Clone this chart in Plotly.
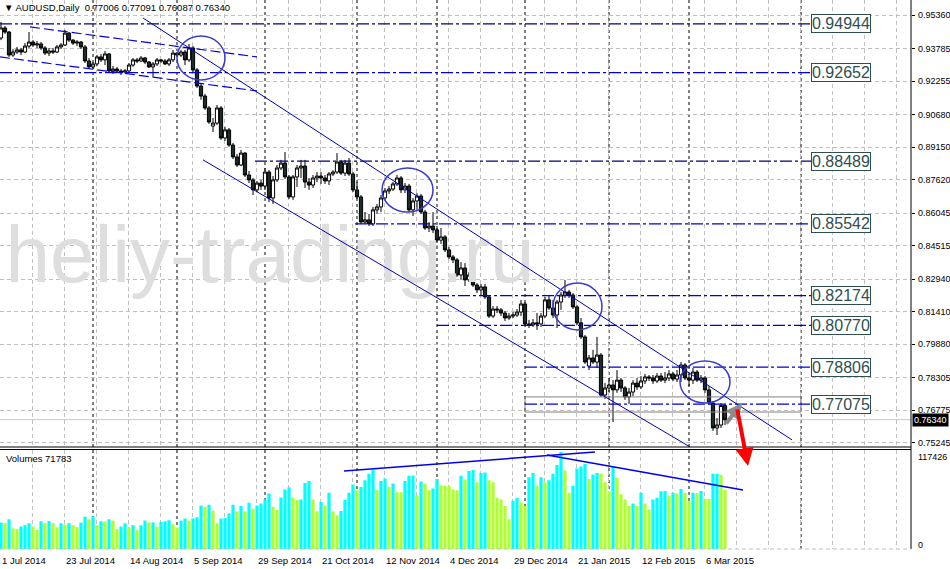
import pandas as pd
import plotly.graph_objects as go

# ---------------- data ----------------
all_days = pd.bdate_range("2014-07-01", "2015-03-13")
dates = [d for d in all_days if d.strftime("%m-%d") not in ("12-25", "01-01")]
idx = list(range(len(dates)))

opens = [0.9428,0.9475,0.9456,0.9348,0.9362,0.9372,0.9362,0.9390,0.9409,0.9395,
0.9400,0.9381,0.9357,0.9367,0.9362,0.9386,0.9395,0.9451,0.9418,0.9404,
0.9409,0.9386,0.9320,0.9292,0.9306,0.9339,0.9325,0.9353,0.9273,0.9282,
0.9273,0.9268,0.9273,0.9301,0.9325,0.9320,0.9334,0.9315,0.9292,0.9306,
0.9325,0.9320,0.9306,0.9325,0.9357,0.9348,0.9362,0.9325,0.9381,0.9278,
0.9202,0.9155,0.9099,0.9014,0.9028,0.9099,0.8958,0.8996,0.8925,0.8869,
0.8831,0.8887,0.8784,0.8761,0.8714,0.8746,0.8732,0.8798,0.8676,0.8761,
0.8817,0.8840,0.8775,0.8681,0.8775,0.8817,0.8826,0.8751,0.8737,0.8770,
0.8779,0.8770,0.8756,0.8789,0.8798,0.8845,0.8793,0.8840,0.8789,0.8714,
0.8681,0.8563,0.8573,0.8554,0.8620,0.8634,0.8676,0.8709,0.8718,0.8742,
0.8770,0.8714,0.8732,0.8620,0.8662,0.8685,0.8610,0.8535,0.8544,0.8526,
0.8478,0.8493,0.8432,0.8399,0.8385,0.8314,0.8347,0.8291,0.8314,0.8267,
0.8244,0.8258,0.8211,0.8121,0.8154,0.8150,0.8135,0.8112,0.8121,0.8126,
0.8140,0.8178,0.8084,0.8079,0.8089,0.8084,0.8121,0.8197,0.8159,0.8126,
0.8187,0.8220,0.8234,0.8220,0.8164,0.8089,0.8023,0.7886,0.7924,0.7905,
0.7938,0.7750,0.7783,0.7797,0.7774,0.7820,0.7783,0.7741,0.7764,0.7806,
0.7788,0.7816,0.7835,0.7830,0.7816,0.7839,0.7820,0.7830,0.7849,0.7825,
0.7844,0.7891,0.7830,0.7820,0.7858,0.7820,0.7830,0.7774,0.7712,0.7595,
0.7609,0.77006]
highs = [0.9503,0.9484,0.9461,0.9376,0.9386,0.9381,0.9404,0.9456,0.9418,0.9414,
0.9409,0.9390,0.9381,0.9381,0.9395,0.9404,0.9466,0.9456,0.9423,0.9418,
0.9414,0.9395,0.9334,0.9315,0.9348,0.9353,0.9367,0.9357,0.9296,0.9292,
0.9282,0.9282,0.9310,0.9334,0.9334,0.9343,0.9339,0.9320,0.9315,0.9334,
0.9329,0.9329,0.9334,0.9372,0.9362,0.9372,0.9372,0.9400,0.9390,0.9287,
0.9212,0.9165,0.9108,0.9052,0.9113,0.9108,0.9010,0.9005,0.8935,0.8883,
0.8902,0.8892,0.8803,0.8770,0.8756,0.8761,0.8817,0.8807,0.8779,0.8831,
0.8855,0.8892,0.8784,0.8784,0.8831,0.8855,0.8855,0.8770,0.8784,0.8798,
0.8798,0.8784,0.8798,0.8807,0.8887,0.8855,0.8855,0.8864,0.8798,0.8751,
0.8690,0.8610,0.8601,0.8634,0.8648,0.8690,0.8723,0.8732,0.8751,0.8784,
0.8779,0.8746,0.8742,0.8676,0.8699,0.8695,0.8620,0.8563,0.8610,0.8544,
0.8535,0.8502,0.8446,0.8408,0.8394,0.8375,0.8370,0.8328,0.8324,0.8276,
0.8272,0.8272,0.8220,0.8168,0.8168,0.8159,0.8145,0.8135,0.8140,0.8154,
0.8197,0.8187,0.8103,0.8107,0.8135,0.8135,0.8211,0.8215,0.8197,0.8197,
0.8234,0.8291,0.8244,0.8229,0.8173,0.8112,0.8032,0.7938,0.7962,0.8023,
0.7947,0.7806,0.7830,0.7820,0.7867,0.7830,0.7792,0.7783,0.7820,0.7830,
0.7839,0.7849,0.7844,0.7844,0.7853,0.7853,0.7858,0.7867,0.7858,0.7867,
0.7905,0.7900,0.7849,0.7877,0.7867,0.7844,0.7839,0.7792,0.7722,0.7642,
0.7712,0.77091]
lows = [0.9418,0.9447,0.9339,0.9339,0.9353,0.9348,0.9357,0.9381,0.9386,0.9381,
0.9372,0.9348,0.9343,0.9353,0.9357,0.9376,0.9390,0.9409,0.9395,0.9390,
0.9376,0.9310,0.9282,0.9282,0.9296,0.9315,0.9301,0.9268,0.9259,0.9263,
0.9254,0.9263,0.9263,0.9292,0.9310,0.9315,0.9306,0.9287,0.9245,0.9296,
0.9310,0.9301,0.9296,0.9315,0.9343,0.9339,0.9301,0.9315,0.9268,0.9193,
0.9137,0.9090,0.9024,0.8986,0.9019,0.8949,0.8944,0.8916,0.8859,0.8822,
0.8826,0.8775,0.8746,0.8690,0.8704,0.8714,0.8714,0.8657,0.8648,0.8751,
0.8807,0.8765,0.8671,0.8667,0.8728,0.8770,0.8723,0.8714,0.8723,0.8751,
0.8742,0.8742,0.8737,0.8779,0.8789,0.8784,0.8779,0.8779,0.8704,0.8671,
0.8554,0.8554,0.8544,0.8544,0.8601,0.8610,0.8667,0.8695,0.8709,0.8732,
0.8699,0.8699,0.8610,0.8591,0.8620,0.8601,0.8526,0.8516,0.8511,0.8469,
0.8460,0.8422,0.8389,0.8370,0.8305,0.8291,0.8262,0.8281,0.8258,0.8229,
0.8220,0.8201,0.8112,0.8112,0.8135,0.8121,0.8098,0.8103,0.8112,0.8117,
0.8121,0.8075,0.8065,0.8070,0.8056,0.8070,0.8112,0.8150,0.8112,0.8065,
0.8150,0.8206,0.8206,0.8154,0.8079,0.8013,0.7896,0.7867,0.7896,0.7877,
0.7741,0.7731,0.7764,0.7623,0.7760,0.7764,0.7727,0.7708,0.7745,0.7774,
0.7778,0.7802,0.7816,0.7802,0.7806,0.7811,0.7806,0.7816,0.7816,0.7811,
0.7811,0.7820,0.7792,0.7802,0.7811,0.7806,0.7760,0.7703,0.7581,0.7562,
0.7595,0.76087]
closes = [0.9475,0.9456,0.9348,0.9362,0.9372,0.9362,0.9390,0.9409,0.9395,0.9400,
0.9381,0.9357,0.9367,0.9362,0.9386,0.9395,0.9451,0.9418,0.9404,0.9409,
0.9386,0.9320,0.9292,0.9306,0.9339,0.9325,0.9353,0.9273,0.9282,0.9273,
0.9268,0.9273,0.9301,0.9325,0.9320,0.9334,0.9315,0.9292,0.9306,0.9325,
0.9320,0.9306,0.9325,0.9357,0.9348,0.9362,0.9325,0.9381,0.9278,0.9202,
0.9155,0.9099,0.9033,0.9028,0.9099,0.8958,0.8996,0.8925,0.8869,0.8831,
0.8887,0.8784,0.8761,0.8714,0.8746,0.8732,0.8798,0.8676,0.8761,0.8817,
0.8840,0.8775,0.8681,0.8775,0.8817,0.8826,0.8751,0.8737,0.8770,0.8779,
0.8770,0.8756,0.8789,0.8798,0.8845,0.8793,0.8840,0.8789,0.8714,0.8681,
0.8563,0.8573,0.8554,0.8620,0.8634,0.8676,0.8709,0.8718,0.8742,0.8770,
0.8714,0.8732,0.8620,0.8662,0.8685,0.8610,0.8535,0.8544,0.8526,0.8478,
0.8493,0.8432,0.8399,0.8385,0.8314,0.8347,0.8291,0.8314,0.8267,0.8244,
0.8258,0.8211,0.8121,0.8154,0.8150,0.8135,0.8112,0.8121,0.8126,0.8140,
0.8178,0.8084,0.8079,0.8089,0.8084,0.8121,0.8197,0.8159,0.8126,0.8187,
0.8220,0.8234,0.8220,0.8164,0.8089,0.8023,0.7905,0.7924,0.7905,0.7938,
0.7750,0.7783,0.7797,0.7774,0.7820,0.7783,0.7741,0.7764,0.7806,0.7788,
0.7816,0.7835,0.7830,0.7816,0.7839,0.7820,0.7830,0.7849,0.7825,0.7844,
0.7891,0.7830,0.7820,0.7858,0.7820,0.7830,0.7774,0.7712,0.7595,0.7609,
0.77006,0.76340]
volumes = [32000,31500,36000,24800,24000,27200,28800,31200,27200,23200,
33600,31200,33800,31200,26400,31200,29600,31200,28800,26400,
32000,39200,36000,39500,28800,33600,33400,36000,34400,24000,
27200,31200,26400,28800,23200,28800,34400,32000,32200,27200,
32800,33600,34800,30000,26000,34400,36800,34400,37000,38400,
52800,51200,53600,46400,31200,36800,37600,43200,53600,45600,
52000,45600,56000,48800,52800,55200,60000,67200,51200,47200,
62400,72000,74800,62000,59200,60000,80000,82400,60000,45600,
56800,52800,68000,45600,40800,46000,59200,68000,78000,71200,
75200,83200,91200,96000,71200,82400,85200,75200,79200,68800,
68600,82400,88800,89000,64800,81600,79200,71200,73200,84800,
76800,76600,76400,72000,71200,88800,84000,94400,
95500,80700,91900,92500,83100,80700,62000,60000,52000,36000,
58300,62000,56700,52000,87000,92000,76700,87000,80700,83100,
91100,101800,117426,95000,68000,76700,97400,99800,103000,84700,
90300,92000,91500,80700,69900,99000,85900,66300,60000,52000,
55000,52000,68000,55000,48000,60000,62000,70000,70200,64700,
68000,67500,72700,68000,58300,68000,67800,70300,60700,60500,
91000,91200,89500,71783]

price_ticks = [0.95360, 0.93785, 0.92255, 0.90680, 0.89150, 0.87620, 0.86045,
               0.84515, 0.82940, 0.81410, 0.79880, 0.78305, 0.76775, 0.75245]
volume_max = 117426

levels = [0.94944, 0.92652, 0.88489, 0.85542, 0.82174, 0.80770, 0.78806, 0.77075]
level_from = [-0.25, -0.25, 63.5, 88.5, 109, 109, 131, 131]
level_to = 202.5
level_colors = ["#000080", "#0000dd", "#000080", "#0000dd", "#0000dd", "#0000dd", "#0000dd", "#0000dd"]

month_lines = [23, 44, 66, 89, 109, 131, 152, 172, 200]
date_ticks = list(range(0, len(dates), 16))

# analyst drawings, in (bar index, price) coordinates
trend_lines = [((35.5, 0.9522), (197.75, 0.7539)),
               ((50.5, 0.8855), (172.25, 0.7506))]
early_channel = [((7.25, 0.9480), (64, 0.9339)),
                 ((-0.25, 0.9339), (64, 0.9179))]
volume_lines = [((85.75, 94400), (148.5, 117400)),
                ((136.5, 113800), (185.5, 71400))]
ellipses = [(44, 56, 0.9231, 0.9437), (95.25, 108, 0.8610, 0.8817),
            (138, 150.25, 0.8056, 0.8276), (169.75, 182.25, 0.7712, 0.7910)]
zone = (131, 200, 0.7670, 0.7741)
last_price = closes[-1]

FONT = "Liberation Sans, Arial, sans-serif"
PRICE_DOM = [1 - 447 / 549, 1]
VOL_DOM = [0, 99.5 / 549]
X_RANGE = [-0.25, 227.5]

vol_colors = ["#00ffff" if i == 0 or volumes[i] > volumes[i - 1] else "#adff2f" for i in idx]

fig = go.Figure()
fig.add_trace(go.Scatter(x=[67.25], y=[0.8375], mode="text", text=["heliy-trading.ru"],
                         textfont=dict(size=80, color="#dedede", family=FONT),
                         hoverinfo="skip", showlegend=False, xaxis="x", yaxis="y"))
fig.add_trace(go.Bar(x=idx, y=volumes, marker=dict(color=vol_colors, line=dict(width=0)),
                     width=0.8, xaxis="x2", yaxis="y2", hoverinfo="skip", showlegend=False))
fig.add_trace(go.Candlestick(x=idx, open=opens, high=highs, low=lows, close=closes,
                             increasing=dict(line=dict(color="black", width=1), fillcolor="white"),
                             decreasing=dict(line=dict(color="black", width=1), fillcolor="#1f2b2b"),
                             whiskerwidth=0, hoverinfo="skip", showlegend=False,
                             xaxis="x", yaxis="y"))

shapes = []
for m in month_lines:
    shapes.append(dict(type="line", xref="x", yref="paper", x0=m, x1=m, y0=0, y1=1,
                       line=dict(color="black", width=1, dash="3px,3px"), layer="below"))
shapes.append(dict(type="line", xref="x", yref="y", x0=X_RANGE[0], x1=X_RANGE[1],
                   y0=last_price, y1=last_price, line=dict(color="#c8c8c8", width=1), layer="below"))
shapes.append(dict(type="rect", xref="x", yref="y", x0=zone[0], x1=zone[1], y0=zone[2], y1=zone[3],
                   line=dict(color="#808080", width=1)))
for lv, x0, c in zip(levels, level_from, level_colors):
    shapes.append(dict(type="line", xref="x", yref="y", x0=x0, x1=level_to, y0=lv, y1=lv,
                       line=dict(color=c, width=1.2, dash="12px,3px,3px,3px")))
for (a, b) in trend_lines:
    shapes.append(dict(type="line", xref="x", yref="y", x0=a[0], y0=a[1], x1=b[0], y1=b[1],
                       line=dict(color="#0000b0", width=1)))
for (a, b) in early_channel:
    shapes.append(dict(type="line", xref="x", yref="y", x0=a[0], y0=a[1], x1=b[0], y1=b[1],
                       line=dict(color="#0000dd", width=1.2, dash="10px,4px")))
for (a, b) in volume_lines:
    shapes.append(dict(type="line", xref="x2", yref="y2", x0=a[0], y0=a[1], x1=b[0], y1=b[1],
                       line=dict(color="#0000ee", width=1.5)))
for (x0, x1, y0, y1) in ellipses:
    shapes.append(dict(type="circle", xref="x", yref="y", x0=x0, x1=x1, y0=y0, y1=y1,
                       line=dict(color="#3a3ad0", width=1.5)))
shapes.append(dict(type="line", xref="paper", yref="paper", x0=1, x1=1, y0=0, y1=1,
                   line=dict(color="black", width=1)))
shapes.append(dict(type="line", xref="paper", yref="paper", x0=0, x1=1, y0=PRICE_DOM[0], y1=PRICE_DOM[0],
                   line=dict(color="black", width=1)))
shapes.append(dict(type="line", xref="paper", yref="paper", x0=0, x1=1, y0=VOL_DOM[1], y1=VOL_DOM[1],
                   line=dict(color="black", width=1)))
shapes.append(dict(type="line", xref="paper", yref="paper", x0=0, x1=1, y0=0, y1=0,
                   line=dict(color="#c0c0c0", width=1, dash="4px,3px")))

ann = []
ann.append(dict(xref="paper", yref="paper", x=0, y=1, xanchor="left", yanchor="top", xshift=2, yshift=0,
                text="▼ AUDUSD,Daily  0.77006 0.77091 0.76087 0.76340", showarrow=False,
                font=dict(family=FONT, size=9.5, color="black")))
ann.append(dict(xref="paper", yref="paper", x=0, y=(549 - 458) / 549, xanchor="left", yanchor="middle",
                xshift=4, text="Volumes %d" % volumes[-1], showarrow=False,
                font=dict(family=FONT, size=9.5, color="black")))
for t in date_ticks:
    d = dates[t]
    ann.append(dict(xref="x", yref="paper", x=t - 0.25, y=-11 / 549, xanchor="left", yanchor="middle",
                    text="%d %s" % (d.day, d.strftime("%b %Y")), showarrow=False,
                    font=dict(family=FONT, size=9.5, color="black")))
for v in price_ticks:
    ann.append(dict(xref="paper", yref="y", x=1, y=v, xanchor="left", yanchor="middle", xshift=5,
                    text="%.5f" % v, showarrow=False, font=dict(family=FONT, size=9, color="black")))
for lv in levels:
    ann.append(dict(xref="x", yref="y", x=level_to, y=lv, xanchor="left", yanchor="middle",
                    text="%.5f" % lv, showarrow=False, bgcolor="white", bordercolor="#2f4f4f",
                    borderwidth=1, borderpad=0, font=dict(family=FONT, size=16, color="#2f4f4f")))
ann.append(dict(xref="paper", yref="y", x=1, y=last_price, xanchor="left", yanchor="middle", xshift=1,
                text="%.5f" % last_price, showarrow=False, bgcolor="black", borderpad=1,
                font=dict(family=FONT, size=9, color="white")))
ann.append(dict(xref="paper", yref="paper", x=1, y=(549 - 457) / 549, xanchor="left", yanchor="middle",
                xshift=5, text=str(volume_max), showarrow=False, font=dict(family=FONT, size=9, color="black")))
ann.append(dict(xref="paper", yref="paper", x=1, y=(549 - 545) / 549, xanchor="left", yanchor="middle",
                xshift=5, text="0", showarrow=False, font=dict(family=FONT, size=9, color="black")))
ann.append(dict(xref="x", yref="paper", x=185.25, y=(549 - 403) / 549, ax=-17, ay=22, text="",
                showarrow=True, arrowhead=2, arrowsize=0.8, arrowwidth=4, arrowcolor="#8c8c8c"))
ann.append(dict(xref="x", yref="paper", x=186.75, y=(549 - 466) / 549, ax=-11, ay=-58, text="",
                showarrow=True, arrowhead=2, arrowsize=0.9, arrowwidth=4, arrowcolor="#ff0000"))

axis_common = dict(range=X_RANGE, showticklabels=False, showgrid=True, gridcolor="#c0c0c0",
                   griddash="4px,3px", gridwidth=1, tick0=-0.25, dtick=8, zeroline=False,
                   showline=False, ticks="", fixedrange=True)
fig.update_layout(
    width=950, height=569, margin=dict(l=0, r=39, t=0, b=20),
    paper_bgcolor="white", plot_bgcolor="white", showlegend=False,
    boxgap=0.2, boxgroupgap=0,
    xaxis=dict(anchor="y", domain=[0, 1], rangeslider=dict(visible=False), **axis_common),
    xaxis2=dict(anchor="y2", domain=[0, 1], matches="x", **axis_common),
    yaxis=dict(domain=PRICE_DOM, range=[0.75056, 0.96065], side="right", tickvals=price_ticks,
               showticklabels=False, showgrid=True, gridcolor="#c0c0c0",
               griddash="4px,3px", zeroline=False, ticks="outside", ticklen=3, tickcolor="black",
               showline=False, fixedrange=True),
    yaxis2=dict(domain=VOL_DOM, range=[0, 120450], showticklabels=False, showgrid=False,
                zeroline=False, showline=False, fixedrange=True),
    shapes=shapes, annotations=ann,
)
fig.write_html("out.html", config={"displayModeBar": False},
               post_script="document.body.style.margin='0px';")
